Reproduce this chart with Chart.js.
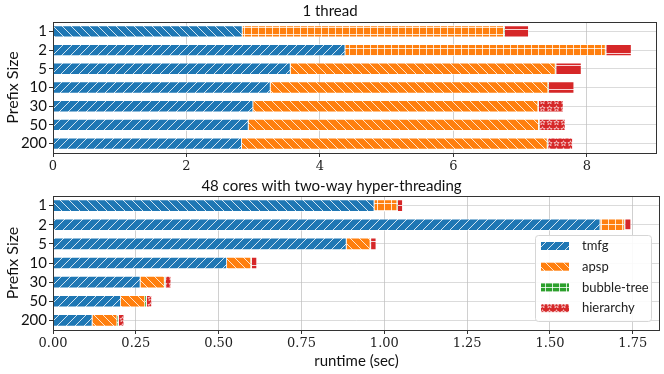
<!DOCTYPE html>
<html>
<head>
<meta charset="utf-8">
<script src="https://cdn.jsdelivr.net/npm/chart.js@4/dist/chart.umd.min.js"></script>
<style>
  html,body{margin:0;padding:0;background:#fff;}
  #wrap{position:relative;width:664px;height:374px;}
  .panel{position:absolute;left:0;width:664px;}
</style>
</head>
<body>
<div id="wrap">
  <div class="panel" style="top:0;height:176px"><canvas id="top" width="664" height="176"></canvas></div>
  <div class="panel" style="top:176px;height:198px"><canvas id="bottom" width="664" height="198"></canvas></div>
</div>
<script>
// ---- data ----
const prefixSizes = ['1','2','5','10','30','50','200'];
const seriesNames = ['tmfg','apsp','bubble-tree','hierarchy'];
const seriesColors = ['#1f77b4','#ff7f0e','#2ca02c','#d62728'];

// 1 thread (sec)
const oneTmfg      = [2.84, 4.38, 3.56, 3.26, 3.00, 2.93, 2.83];
const oneApsp      = [3.92, 3.90, 3.97, 4.16, 4.27, 4.35, 4.58];
const oneBubble    = [0.01, 0.01, 0.01, 0.01, 0.01, 0.01, 0.01];
const oneHierarchy = [0.36, 0.38, 0.38, 0.38, 0.37, 0.39, 0.37];
const oneTicks = [0, 2, 4, 6, 8];

// 48 cores (sec)
const parTmfg      = [0.970, 1.652, 0.886, 0.525, 0.264, 0.205, 0.119];
const parApsp      = [0.069, 0.073, 0.072, 0.073, 0.073, 0.073, 0.075];
const parBubble    = [0.002, 0.002, 0.002, 0.002, 0.003, 0.005, 0.005];
const parHierarchy = [0.015, 0.018, 0.016, 0.016, 0.017, 0.016, 0.016];
const parTicks = [0, 0.25, 0.5, 0.75, 1.0, 1.25, 1.5, 1.75];

// hatch per bar (matplotlib cycled them a bit oddly)
const hatchTmfg      = ['\\','/','/','/','/','/','/'];
const hatchApsp      = ['+','+','\\','\\','\\','\\','\\'];
const hatchBubble    = ['+','+','+','+','+','+','+'];
const hatchHierarchy = ['-','-','-','-','*','*','*'];
const legendHatch = ['/','\\','+','*'];

const SANS = 'Lato, "DejaVu Sans", sans-serif';
const SERIF = '"DejaVu Serif", serif';

function makeHatch(color, kind){
  let s = 9;
  if(kind==='+') s = 7;
  if(kind==='*') s = 7;
  if(kind==='-') s = 12;
  const c = document.createElement('canvas');
  c.width = s; c.height = s;
  const g = c.getContext('2d');
  g.fillStyle = color; g.fillRect(0,0,s,s);
  g.strokeStyle = 'rgba(255,255,255,0.8)';
  g.lineWidth = 1;
  g.beginPath();
  if(kind==='/'){
    g.moveTo(0,s); g.lineTo(s,0);
    g.moveTo(-2,2); g.lineTo(2,-2);
    g.moveTo(s-2,s+2); g.lineTo(s+2,s-2);
  } else if(kind==='\\'){
    g.moveTo(0,0); g.lineTo(s,s);
    g.moveTo(s-2,-2); g.lineTo(s+2,2);
    g.moveTo(-2,s-2); g.lineTo(2,s+2);
  } else if(kind==='+'){
    g.moveTo(s-0.5,0); g.lineTo(s-0.5,s);
    g.moveTo(0,s-0.5); g.lineTo(s,s-0.5);
  } else if(kind==='-'){
    g.moveTo(0,s/2-0.5); g.lineTo(s,s/2-0.5);
  } else if(kind==='*'){
    // small hollow star
    const cx = s/2, cy = s/2, ro = 2.8, ri = 1.2;
    g.lineWidth = 0.8;
    for(let i=0;i<10;i++){
      const a = -Math.PI/2 + i*Math.PI/5;
      const r = i%2 ? ri : ro;
      const px = cx + r*Math.cos(a), py = cy + r*Math.sin(a);
      if(i===0) g.moveTo(px,py); else g.lineTo(px,py);
    }
    g.closePath();
  }
  g.stroke();
  return g.createPattern(c,'repeat');
}

function patterns(color, kinds){ return kinds.map(k=>makeHatch(color,k)); }

// box around plot
const framePlugin = {
  id:'frame',
  afterDraw(chart){
    const a = chart.chartArea, ctx = chart.ctx;
    ctx.save();
    ctx.strokeStyle = '#333'; ctx.lineWidth = 1;
    ctx.strokeRect(Math.round(a.left)+0.5, Math.round(a.top)+0.5, Math.round(a.right-a.left)-1, Math.round(a.bottom-a.top));
    ctx.restore();
  }
};

// legend inside the plot, lower right
const innerLegend = {
  id:'innerLegend',
  afterDraw(chart, args, opts){
    if(!opts.show) return;
    const a = chart.chartArea, ctx = chart.ctx;
    const w = 116, h = 86;
    const x = a.right - 9 - w, y = a.bottom - 9 - h;
    ctx.save();
    ctx.fillStyle = 'rgba(255,255,255,0.9)';
    ctx.strokeStyle = '#d6d6d6'; ctx.lineWidth = 1;
    ctx.beginPath();
    ctx.roundRect(x+0.5, y+0.5, w, h, 3);
    ctx.fill(); ctx.stroke();
    ctx.font = '13px ' + SANS;
    ctx.textBaseline = 'middle';
    chart.data.datasets.forEach((ds,i)=>{
      const cy = y + 11 + i*20.7;
      ctx.fillStyle = makeHatch(seriesColors[i], legendHatch[i]);
      ctx.fillRect(x+6, cy-4, 28, 8);
      ctx.fillStyle = '#222';
      ctx.fillText(ds.label, x+47, cy);
    });
    ctx.restore();
  }
};

function buildChart(id, title, vals, hatches, xmax, ticks, opts){
  const ds = seriesNames.map((name,i)=>({
    label:name,
    data:vals[i],
    backgroundColor:patterns(seriesColors[i], hatches[i]),
    borderColor:'rgba(255,255,255,0.7)',
    borderWidth:0.8,
    barPercentage:0.64,
    categoryPercentage:1
  }));
  return new Chart(document.getElementById(id),{
    type:'bar',
    data:{labels:prefixSizes, datasets:ds},
    options:{
      indexAxis:'y',
      responsive:false,
      animation:false,
      devicePixelRatio:1,
      layout:{padding:{left:3, right:opts.padRight, top:0, bottom:2}},
      plugins:{
        legend:{display:false},
        tooltip:{enabled:false},
        title:{display:true, text:title, color:'#111', font:{family:SANS, size:15, weight:'normal'}, padding:{top:opts.titleTop, bottom:opts.titleBottom}},
        innerLegend:{show:opts.legend}
      },
      scales:{
        x:{
          stacked:true, min:0, max:xmax, z:1,
          afterBuildTicks(scale){ scale.ticks = ticks.map(v=>({value:v})); },
          afterFit(scale){ scale.height = opts.xHeight; },
          grid:{color:'rgba(176,176,176,0.6)', tickColor:'#333', tickLength:4, drawTicks:true},
          border:{display:false},
          ticks:{color:'#222', font:{family:SERIF, size:13}, padding:2, maxRotation:0,
                 callback:(v)=>opts.fmt(v)},
          title:{display:!!opts.xTitle, text:opts.xTitle||'', color:'#111', font:{family:SANS, size:15}, padding:{top:0, bottom:2}}
        },
        y:{
          stacked:true, z:1,
          afterFit(scale){ scale.width = 50; },
          grid:{offset:false, color:'rgba(190,190,190,0.55)', tickColor:'#333', tickLength:4},
          border:{display:false},
          ticks:{color:'#111', font:{family:SANS, size:15}, padding:2, autoSkip:false},
          title:{display:true, text:'Prefix Size', color:'#111', font:{family:SANS, size:16}, padding:{top:0, bottom:0}}
        }
      }
    },
    plugins:[framePlugin, innerLegend]
  });
}

buildChart('top', '1 thread',
  [oneTmfg, oneApsp, oneBubble, oneHierarchy],
  [hatchTmfg, hatchApsp, hatchBubble, hatchHierarchy],
  9.05, oneTicks,
  {padRight:7, titleTop:2, titleBottom:2, xHeight:21, fmt:v=>String(v), legend:false});

buildChart('bottom', '48 cores with two-way hyper-threading',
  [parTmfg, parApsp, parBubble, parHierarchy],
  [hatchTmfg, hatchApsp, hatchBubble, hatchHierarchy],
  1.832, parTicks,
  {padRight:4, titleTop:1, titleBottom:1, xHeight:42, fmt:v=>Number(v).toFixed(2), legend:true, xTitle:'runtime (sec)'});
</script>
</body>
</html>
